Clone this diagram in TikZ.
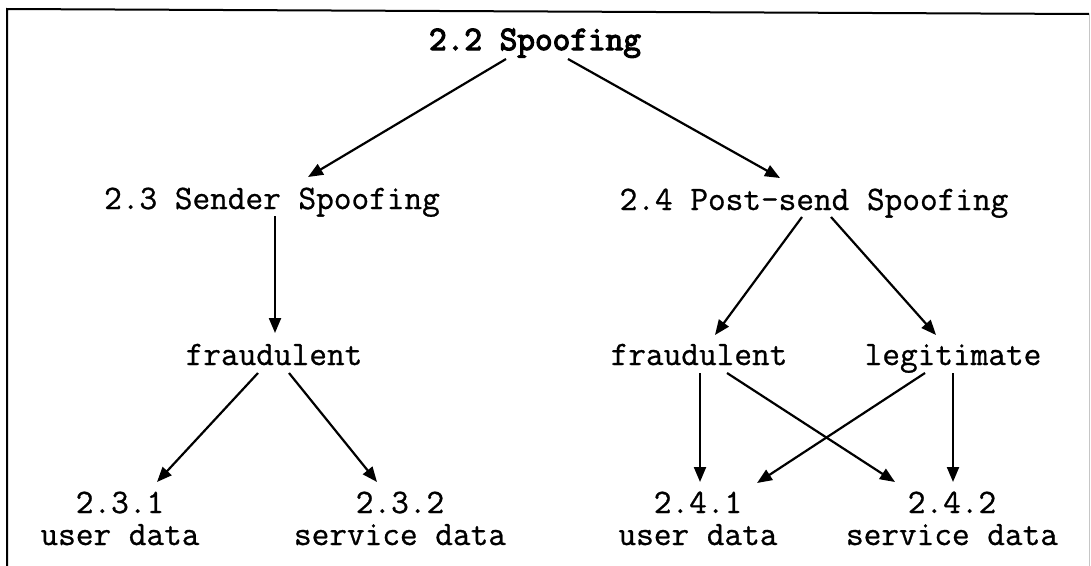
\documentclass[tikz,border=0pt]{standalone}
\usepackage{fontspec}
\setmonofont{Latin Modern Mono}[
  UprightFeatures={FakeBold=0.8},
  BoldFont={Latin Modern Mono},
  BoldFeatures={FakeBold=3.5}]
\usetikzlibrary{arrows.meta}
\tikzset{
  lbl/.style={inner sep=0pt, anchor=base, font=\ttfamily\fontsize{34.3}{32}\selectfont},
  arr/.style={line width=2.2pt, -{Triangle[length=15pt,width=12pt]}},
  frame/.style={line width=2pt},
}
\newcommand{\twoline}[2]{\setlength{\tabcolsep}{0pt}\renewcommand{\arraystretch}{1}\begin{tabular}[t]{c}#1\\#2\end{tabular}}
\begin{document}
\begin{tikzpicture}[x=1pt,y=-1pt]
  \useasboundingbox (0,0) rectangle (1091,565);
  % outer frame
  \draw[frame] (7,566) -- (7,9) -- (1089,14);
  \draw[line width=1pt, gray!45] (1089,14) -- (1089,566);

  % nodes
  \node[lbl, font=\ttfamily\bfseries\fontsize{34.3}{32}\selectfont] (top) at (535,50) {2.2 Spoofing};
  \node[lbl] (s23) at (272,209) {2.3 Sender Spoofing};
  \node[lbl] (s24) at (814,210) {2.4 Post-send Spoofing};
  \node[lbl] (fl) at (274,365) {fraudulent};
  \node[lbl] (fr) at (699,365) {fraudulent};
  \node[lbl] (lg) at (953,365) {legitimate};
  \node[lbl] (u231) at (120,513) {\twoline{2.3.1}{user data}};
  \node[lbl] (u232) at (400,513) {\twoline{2.3.2}{service data}};
  \node[lbl] (u241) at (698,513) {\twoline{2.4.1}{user data}};
  \node[lbl] (u242) at (952,513) {\twoline{2.4.2}{service data}};

  % connectors
  \draw[arr] ([shift={(-29,9)}]top.base) -- ([shift={(36,-32)}]s23.base);
  \draw[arr] ([shift={(33,9)}]top.base) -- ([shift={(-34,-32)}]s24.base);
  \draw[arr] ([shift={(3,7)}]s23.base) -- ([shift={(1,-32)}]fl.base);
  \draw[arr] ([shift={(-12,7)}]s24.base) -- ([shift={(16,-30)}]fr.base);
  \draw[arr] ([shift={(17,7)}]s24.base) -- ([shift={(-17,-30)}]lg.base);
  \draw[arr] ([shift={(-16,8)}]fl.base) -- ([shift={(37,-31)}]u231.base);
  \draw[arr] ([shift={(15,8)}]fl.base) -- ([shift={(-23,-31)}]u232.base);
  \draw[arr] ([shift={(1,8)}]fr.base) -- ([shift={(2,-31)}]u241.base);
  \draw[arr] ([shift={(28,8)}]fr.base) -- ([shift={(-57,-31)}]u242.base);
  \draw[arr] ([shift={(-28,8)}]lg.base) -- ([shift={(59,-30)}]u241.base);
  \draw[arr] ([shift={(0,8)}]lg.base) -- ([shift={(1,-31)}]u242.base);
\end{tikzpicture}
\end{document}
